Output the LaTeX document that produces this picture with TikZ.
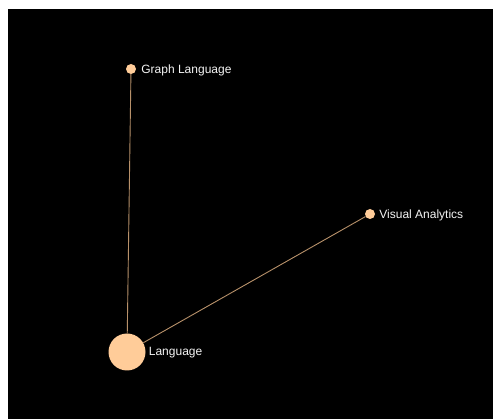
\documentclass[tikz,border=0pt]{standalone}
\usepackage{fontspec}
\setmainfont{Liberation Sans}
\usepackage{tikz}
\usetikzlibrary{positioning}
\definecolor{nodefill}{HTML}{FFCC99}
\definecolor{edgecol}{HTML}{B8916A}
\definecolor{labelcol}{HTML}{F4F4F4}

\begin{document}
\begin{tikzpicture}[x=1pt, y=-1pt,
		vertex/.style={circle, fill=nodefill, inner sep=0pt},
		lbl/.style={text=labelcol, inner sep=0pt, anchor=west, font=\fontsize{12}{14}\selectfont},
		link/.style={draw=edgecol, line width=0.9pt}]
				\useasboundingbox[fill=white] (0,0) rectangle (493,419);
				\fill[black] (8,9) rectangle (493,419);
				
				\node[vertex, minimum size=10pt] (graph) at (131,69) {};
				\node[vertex, minimum size=10pt] (visual) at (370,214) {};
				\node[vertex, minimum size=37pt] (lang) at (127,352) {};
				
				\draw[link] (lang) -- (graph);
				\draw[link] (lang) -- (visual);
				
				\node[lbl, right=5pt of graph, yshift=-1pt] {Graph Language};
				\node[lbl, right=4pt of visual, yshift=-1pt] {Visual Analytics};
				\node[lbl, right=3pt of lang, yshift=-1pt] {Language};
			\end{tikzpicture}
\end{document}
